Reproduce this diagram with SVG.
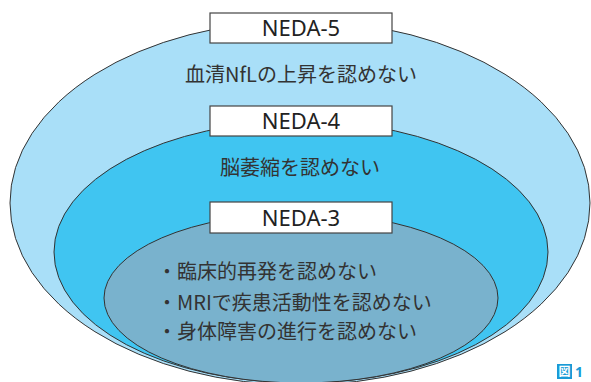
<svg xmlns="http://www.w3.org/2000/svg" width="591" height="382" viewBox="0 0 591 382">
<style>
.ell{stroke:#333;stroke-width:1}
.box{fill:#fff;stroke:#444;stroke-width:1.2}
.lbl{font-family:"Noto Sans","Noto Sans CJK JP",sans-serif;font-size:22px;fill:#222;text-anchor:middle}
.jp{font-family:"Noto Sans CJK JP",sans-serif;font-size:20px;fill:#333}
</style>
<rect width="591" height="382" fill="#fff"/>
<g id="neda5">
<ellipse class="ell" cx="300" cy="203" rx="290" ry="182" fill="#a9dff8"/>
</g>
<g id="neda4">
<ellipse class="ell" cx="301" cy="252" rx="247" ry="131" fill="#40c5f1"/>
</g>
<g id="neda3">
<ellipse class="ell" cx="301" cy="298" rx="197" ry="85" fill="#79b2cd"/>
</g>
<g id="neda5-label">
<rect class="box" x="210" y="13" width="182" height="30"/>
<text class="lbl" x="301" y="36">NEDA-5</text>
<text class="jp" x="301" y="82" text-anchor="middle">血清NfLの上昇を認めない</text>
</g>
<g id="neda4-label">
<rect class="box" x="210" y="106" width="182" height="30"/>
<text class="lbl" x="301" y="129">NEDA-4</text>
<text class="jp" x="300" y="175" text-anchor="middle">脳萎縮を認めない</text>
</g>
<g id="neda3-label">
<rect class="box" x="210" y="202" width="182" height="31"/>
<text class="lbl" x="301" y="226">NEDA-3</text>
<text class="jp" x="157" y="279">・臨床的再発を認めない</text>
<text class="jp" x="157" y="310">・MRIで疾患活動性を認めない</text>
<text class="jp" x="157" y="339">・身体障害の進行を認めない</text>
</g>
<g id="figlabel">
<rect x="557" y="364" width="15" height="15" fill="#1a9ad6"/>
<text x="564.5" y="376" font-family="Noto Sans CJK JP,sans-serif" font-size="12" font-weight="bold" fill="#fff" text-anchor="middle">図</text>
<text x="575" y="377" font-family="Noto Sans,sans-serif" font-size="14" font-weight="bold" fill="#1a9ad6">1</text>
</g>
<g id="connectors"/>
</svg>
